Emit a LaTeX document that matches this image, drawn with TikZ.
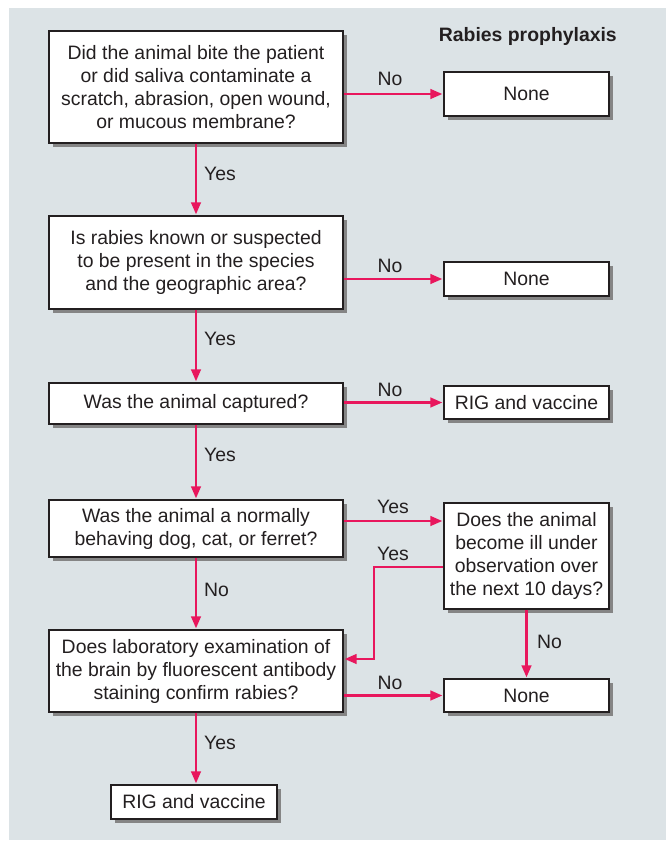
\documentclass[tikz,border=0pt]{standalone}
\usepackage{fontspec}
\setmainfont{Liberation Sans}
\usetikzlibrary{arrows.meta,shadows}
\definecolor{panel}{HTML}{DCE3E6}
\definecolor{arrowred}{HTML}{E8175D}
\definecolor{txt}{HTML}{231F20}
\definecolor{shade}{HTML}{858585}
\tikzset{
  box/.style={draw=txt, line width=1.2pt, fill=white, text=txt, align=center,
    inner sep=0pt, font=\fontsize{19.4}{23}\selectfont,
    general shadow={fill=shade, shadow xshift=4pt, shadow yshift=-4pt}},
  qbox/.style={box, minimum width=294pt},
  abox/.style={box, minimum width=165pt},
  flow/.style={draw=arrowred, line width=2.6pt, -{Triangle[length=12pt,width=9.5pt]}, shorten >=1pt},
  lab/.style={text=txt, font=\fontsize{19.4}{23}\selectfont, inner sep=0pt}
}
\begin{document}
\begin{tikzpicture}[x=1pt,y=-1pt]
\useasboundingbox (0,0) rectangle (666,841);
\fill[panel] (9,8) rectangle (666,840);
\node[lab, anchor=east, font=\fontsize{19.4}{23}\selectfont\bfseries] (title) at (617,36) {Rabies prophylaxis};

\node[qbox, minimum height=112pt] (b1) at (196,87) {Did the animal bite the patient\\or did saliva contaminate a\\scratch, abrasion, open wound,\\or mucous membrane?};
\node[qbox, minimum height=93pt] (b2) at (196,262.5) {Is rabies known or suspected\\to be present in the species\\and the geographic area?};
\node[qbox, minimum height=41pt] (b3) at (196,403.5) {Was the animal captured?};
\node[qbox, minimum height=57pt] (b4) at (196,528.5) {Was the animal a normally\\behaving dog, cat, or ferret?};
\node[qbox, minimum height=82pt] (b6) at (196,671) {Does laboratory examination of\\the brain by fluorescent antibody\\staining confirm rabies?};
\node[box, minimum width=166pt, minimum height=34pt] (r2) at (194,802) {RIG and vaccine};

\node[abox, minimum height=44pt] (n1) at (526.5,94) {None};
\node[abox, minimum height=34pt] (n2) at (526.5,279) {None};
\node[abox, minimum height=33pt] (r1) at (526.5,402.5) {RIG and vaccine};
\node[abox, minimum height=106pt] (b5) at (526.5,556) {Does the animal\\become ill under\\observation over\\the next 10 days?};
\node[abox, minimum height=33pt] (n3) at (526.5,695.5) {None};

% vertical Yes/No arrows
\draw[flow] (b1.south) -- (b2.north);
\draw[flow] (b2.south) -- (b3.north);
\draw[flow] (b3.south) -- (b4.north);
\draw[flow] (b4.south) -- (b6.north);
\draw[flow] (b6.south) -- (b6.south |- r2.north);
\draw[flow] (b5.south) -- (n3.north);

% horizontal arrows
\draw[flow] (b1.east |- n1) -- (n1.west);
\draw[flow] (b2.east |- n2) -- (n2.west);
\draw[flow] (b3.east |- r1) -- (r1.west);
\coordinate (y4) at (343,521);
\draw[flow] (b4.east |- y4) -- (b5.west |- y4);
\coordinate (k1) at (444,567);
\coordinate (k2) at (374,659);
\draw[flow] (b5.west |- k1) -| (k2) -- (b6.east |- k2);
\draw[flow] (b6.east |- n3) -- (n3.west);

% labels
\node[lab] (l1) at (390,79) {No};
\node[lab, anchor=west] (l2) at (204,174) {Yes};
\node[lab] (l3) at (390,266) {No};
\node[lab, anchor=west] (l4) at (204,339) {Yes};
\node[lab] (l5) at (390,390) {No};
\node[lab, anchor=west] (l6) at (204,455) {Yes};
\node[lab] (l7) at (393,507) {Yes};
\node[lab] (l8) at (393,554) {Yes};
\node[lab, anchor=west] (l9) at (204,590) {No};
\node[lab, anchor=west] (l10) at (537,642) {No};
\node[lab] (l11) at (390,683) {No};
\node[lab, anchor=west] (l12) at (204,743) {Yes};
\end{tikzpicture}
\end{document}
